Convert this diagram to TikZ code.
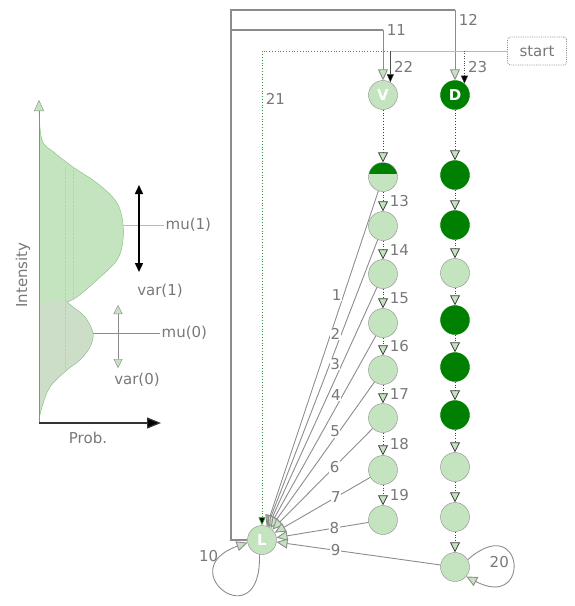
\documentclass[tikz,border=0pt]{standalone}
\usepackage{fontspec}
\setmainfont{DejaVu Sans}
\usepackage{tikz}
\usetikzlibrary{arrows.meta}

\definecolor{lgreen}{HTML}{C4E3BF}
\definecolor{lgray}{HTML}{CCDDC8}
\definecolor{dgreen}{HTML}{008000}
\definecolor{egray}{HTML}{8C8C8C}
\definecolor{tgray}{HTML}{787878}

\tikzset{
  lstate/.style={circle,draw=egray,fill=lgreen,minimum size=29pt,inner sep=0pt,
    font=\fontsize{15}{18}\selectfont\bfseries,text=white},
  dstate/.style={lstate,draw=dgreen,fill=dgreen},
  lbl/.style={text=tgray,font=\fontsize{15}{18}\selectfont,inner sep=1.5pt},
  elbl/.style={lbl,right,xshift=5pt},
  nlbl/.style={lbl,fill=white,inner sep=0.5pt},
  chain/.style={draw=black!75,dotted,thick,-{Triangle[fill=lgreen,length=10pt,width=10pt]}},
  trans/.style={draw=egray,line width=0.9pt,-{Triangle[fill=lgreen,length=11pt,width=10pt]}},
  wire/.style={draw=egray,line width=2.5pt},
  sline/.style={draw=dgreen!80,dotted,thick,-{Triangle[fill=black,length=8pt,width=7pt]}},
  sarrow/.style={draw=black!70,thin,-{Triangle[fill=black,length=8pt,width=7pt]}},
}

\begin{document}
\begin{tikzpicture}[x=1pt,y=1pt]
  \useasboundingbox (0,0) rectangle (575,-606);

  % intensity model
  \fill[lgreen] (39,-423) -- (39,-108)
    -- plot[smooth,tension=0.6] coordinates {(39,-108) (42,-140) (55,-153) (73,-167) (97,-183)
      (115,-200) (122,-217) (123,-240) (117,-260) (97,-280) (77,-297) (67,-302)}
    -- plot[smooth,tension=0.6] coordinates {(67,-302) (73,-307) (85,-317) (93,-333) (90,-347)
      (80,-360) (67,-370) (50,-387) (42,-407) (39,-420)} -- cycle;
  \fill[lgray] (39,-423) -- (39,-302)
    -- plot[smooth,tension=0.6] coordinates {(67,-302) (73,-307) (85,-317) (93,-333) (90,-347)
      (80,-360) (67,-370) (50,-387) (42,-407) (39,-420)} -- cycle;
  \draw[dgreen!50,thin] plot[smooth,tension=0.6] coordinates {(39,-108) (42,-140) (55,-153) (73,-167) (97,-183)
      (115,-200) (122,-217) (123,-240) (117,-260) (97,-280) (77,-297) (67,-302)}
    plot[smooth,tension=0.6] coordinates {(67,-302) (73,-307) (85,-317) (93,-333) (90,-347)
      (80,-360) (67,-370) (50,-387) (42,-407) (39,-420)};
  \draw[egray!50,densely dotted] (65,-167) -- (65,-370) (73,-167) -- (73,-300);
  \draw[egray,-{Triangle[fill=lgreen,length=11pt,width=10pt]}] (39,-423) -- (39,-100);
  \draw[black!80,line width=1.2pt,-{Triangle[fill=black,length=14pt,width=11pt]}] (39,-423) -- (161,-423);
  \node[lbl,rotate=90] (ylab) at (23,-275) {Intensity};
  \node[lbl] (xlab) at (88,-438) {Prob.};
  \draw[egray!60] (123,-225) -- (164,-225) node[lbl,right] (mu1) {mu(1)};
  \draw[egray] (93,-333) -- (160,-333) node[lbl,right] (mu0) {mu(0)};
  \draw[black,line width=1.5pt,{Triangle[length=9pt,width=8pt]}-{Triangle[length=9pt,width=8pt]}] (139,-185) -- (139,-272);
  \node[lbl] (var1) at (160,-291) {var(1)};
  \draw[egray,{Triangle[fill=lgreen,length=9pt,width=9pt]}-{Triangle[fill=lgreen,length=9pt,width=9pt]}] (118,-305) -- (118,-368);
  \node[lbl] (var0) at (137,-380) {var(0)};

  % states
  \node[lstate] (V) at (383,-95) {V};
  \node[lstate,path picture={\fill[dgreen] (path picture bounding box.north west)
    rectangle ([yshift=3pt]path picture bounding box.east);}] (A1) at (383,-177) {};
  \node[lstate] (A2) at (383,-226) {};
  \node[lstate] (A3) at (383,-274) {};
  \node[lstate] (A4) at (383,-323) {};
  \node[lstate] (A5) at (383,-370) {};
  \node[lstate] (A6) at (383,-418) {};
  \node[lstate] (A7) at (383,-470) {};
  \node[lstate] (A8) at (383,-520) {};

  \node[dstate] (D) at (455,-95) {D};
  \node[dstate] (B1) at (455,-175) {};
  \node[dstate] (B2) at (455,-225) {};
  \node[lstate] (B3) at (455,-273) {};
  \node[dstate] (B4) at (455,-320) {};
  \node[dstate] (B5) at (455,-367) {};
  \node[dstate] (B6) at (455,-415) {};
  \node[lstate] (B7) at (455,-467) {};
  \node[lstate] (B8) at (455,-517) {};
  \node[lstate] (B9) at (455,-567) {};

  \node[lstate] (L) at (262,-540) {L};
  \node[lbl,draw=egray,densely dotted,thick,rounded corners=3pt,minimum width=59pt,minimum height=28pt] (start) at (537,-51) {start};

  % left column
  \draw[chain] (V) -- (A1);
  \draw[chain] (A1) -- node[elbl]{13} (A2);
  \draw[chain] (A2) -- node[elbl]{14} (A3);
  \draw[chain] (A3) -- node[elbl]{15} (A4);
  \draw[chain] (A4) -- node[elbl]{16} (A5);
  \draw[chain] (A5) -- node[elbl]{17} (A6);
  \draw[chain] (A6) -- node[elbl]{18} (A7);
  \draw[chain] (A7) -- node[elbl]{19} (A8);

  % right column
  \draw[chain] (D) -- (B1);
  \draw[chain] (B1) -- (B2);
  \draw[chain] (B2) -- (B3);
  \draw[chain] (B3) -- (B4);
  \draw[chain] (B4) -- (B5);
  \draw[chain] (B5) -- (B6);
  \draw[chain] (B6) -- (B7);
  \draw[chain] (B7) -- (B8);
  \draw[chain] (B8) -- (B9);

  % back to L
  \draw[trans] (A1) -- node[nlbl,pos=0.31,xshift=-7pt]{1} (L);
  \draw[trans] (A2) -- node[nlbl,pos=0.33,xshift=-6pt]{2} (L);
  \draw[trans] (A3) -- node[nlbl,pos=0.32,xshift=-7pt]{3} (L);
  \draw[trans] (A4) -- node[nlbl,pos=0.31,xshift=-7pt]{4} (L);
  \draw[trans] (A5) -- node[nlbl,pos=0.34,xshift=-4pt]{5} (L);
  \draw[trans] (A6) -- node[nlbl,pos=0.38]{6} (L);
  \draw[trans] (A7) -- node[nlbl,pos=0.36]{7} (L);
  \draw[trans] (A8) -- node[nlbl,pos=0.37]{8} (L);
  \draw[trans] (B9) -- node[nlbl,pos=0.64]{9} (L);
  \draw[trans] (L.-100) .. controls (262,-640) and (170,-570) .. node[lbl,pos=0.86,left,xshift=-4pt]{10} (L.190);
  \draw[trans] (B9.30) .. controls (524,-510) and (532,-611) .. node[lbl,pos=0.5,left,xshift=-2pt]{20} (B9.-40);

  % from L to the first states
  \coordinate (c11) at (231,-30);
  \coordinate (t11) at (383,-30);
  \coordinate (c12) at (231,-10);
  \coordinate (t12) at (455,-10);
  \draw[wire] (L.west) -| (c12) -- (t12);
  \draw[wire] (L.west) -| (c11) -- (t11);
  \draw[trans] (t11) -- (V) node[lbl,pos=0,right,xshift=2pt]{11};
  \draw[trans] (t12) -- (D) node[lbl,pos=0,anchor=north west,xshift=2pt,yshift=-2pt]{12};

  % from start
  \coordinate (s21) at (L.north |- start.west);
  \coordinate (s22) at (V.60 |- start.west);
  \coordinate (s23) at (D.50 |- start.west);
  \draw[egray!60,thick] (start.west) -- (s22);
  \draw[sline] (s22) -- (s21) -- node[lbl,pos=0.1,right,xshift=2pt]{21} (L.north);
  \draw[sarrow] (s22) -- node[elbl,xshift=-3pt]{22} (V.60);
  \draw[sarrow,dotted] (s23) -- node[elbl,xshift=-3pt]{23} (D.50);
\end{tikzpicture}
\end{document}
